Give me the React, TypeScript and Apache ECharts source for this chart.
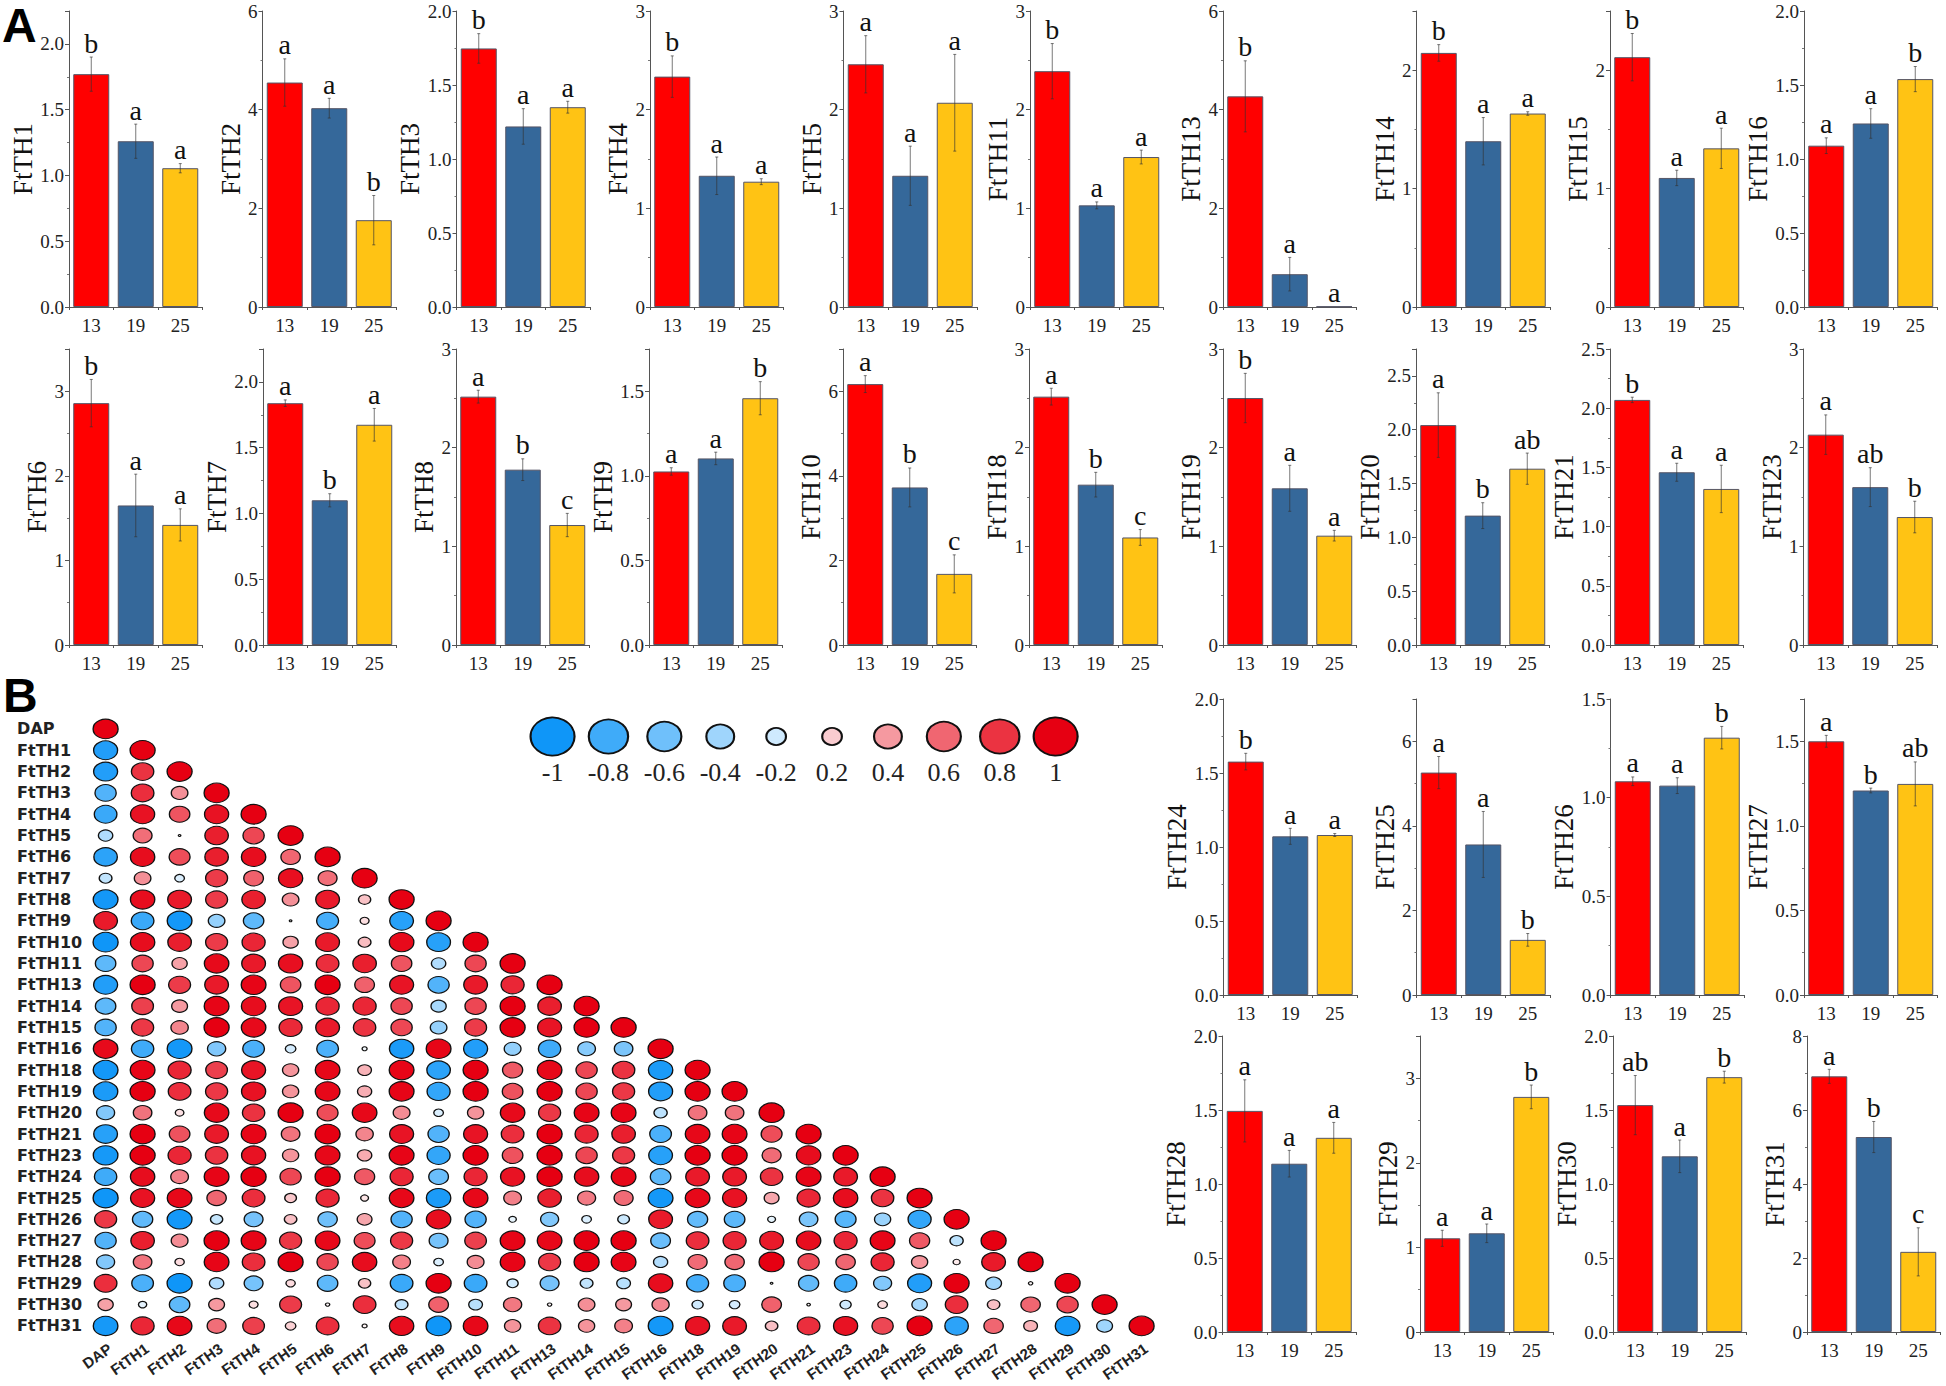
import React, { useEffect, useRef } from "react";
import * as echarts from "echarts";

// ---------- bar panel data ----------
const stages = ["13", "19", "25"];
const panelNames = [
  "FtTH1", "FtTH2", "FtTH3", "FtTH4", "FtTH5", "FtTH11", "FtTH13", "FtTH14", "FtTH15", "FtTH16",
  "FtTH6", "FtTH7", "FtTH8", "FtTH9", "FtTH10", "FtTH18", "FtTH19", "FtTH20", "FtTH21", "FtTH23",
  "FtTH24", "FtTH25", "FtTH26", "FtTH27", "FtTH28", "FtTH29", "FtTH30", "FtTH31",
];
const means = [
  [1.77, 1.26, 1.055], [4.55, 4.03, 1.76], [1.747, 1.22, 1.35], [2.335, 1.33, 1.27], [2.46, 1.33, 2.07],
  [2.39, 1.03, 1.52], [4.27, 0.665, 0.01], [2.146, 1.4, 1.634], [2.11, 1.09, 1.34], [1.09, 1.24, 1.54],
  [2.86, 1.65, 1.42], [1.838, 1.1, 1.674], [2.517, 1.777, 1.216], [1.026, 1.103, 1.459], [6.17, 3.726, 1.682],
  [2.517, 1.625, 1.09], [2.503, 1.588, 1.108], [2.043, 1.202, 1.638], [2.07, 1.459, 1.318], [2.132, 1.6, 1.297],
  [1.577, 1.072, 1.081], [5.26, 3.56, 1.304], [1.083, 1.061, 1.304], [1.5, 1.209, 1.248],
  [1.494, 1.137, 1.312], [1.108, 1.167, 2.78], [1.533, 1.187, 1.722], [6.91, 5.27, 2.166],
];
const errors = [
  [0.13, 0.13, 0.035], [0.48, 0.2, 0.5], [0.1, 0.12, 0.04], [0.21, 0.19, 0.03], [0.29, 0.3, 0.49],
  [0.28, 0.035, 0.07], [0.72, 0.34, 0], [0.07, 0.2, 0.015], [0.2, 0.065, 0.17], [0.053, 0.1, 0.085],
  [0.28, 0.37, 0.19], [0.025, 0.05, 0.124], [0.065, 0.11, 0.118], [0.022, 0.037, 0.098], [0.2, 0.46, 0.45],
  [0.085, 0.125, 0.08], [0.25, 0.233, 0.054], [0.3, 0.12, 0.145], [0.023, 0.076, 0.2], [0.2, 0.197, 0.16],
  [0.056, 0.054, 0.01], [0.38, 0.78, 0.15], [0.022, 0.04, 0.057], [0.035, 0.014, 0.13],
  [0.21, 0.09, 0.104], [0.095, 0.11, 0.14], [0.2, 0.11, 0.04], [0.19, 0.42, 0.65],
];
const letters = [
  ["b", "a", "a"], ["a", "a", "b"], ["b", "a", "a"], ["b", "a", "a"], ["a", "a", "a"],
  ["b", "a", "a"], ["b", "a", "a"], ["b", "a", "a"], ["b", "a", "a"], ["a", "a", "b"],
  ["b", "a", "a"], ["a", "b", "a"], ["a", "b", "c"], ["a", "a", "b"], ["a", "b", "c"],
  ["a", "b", "c"], ["b", "a", "a"], ["a", "b", "ab"], ["b", "a", "a"], ["a", "ab", "b"],
  ["b", "a", "a"], ["a", "a", "b"], ["a", "a", "b"], ["a", "b", "ab"],
  ["a", "a", "a"], ["a", "a", "b"], ["ab", "a", "b"], ["a", "b", "c"],
];
const yMax = [
  2.25, 6, 2, 3, 3, 3, 6, 2.5, 2.5, 2,
  3.5, 2.25, 3, 1.75, 7, 3, 3, 2.75, 2.5, 3,
  2, 7, 1.5, 1.75, 2, 3.5, 2, 8,
];
const yStep = [
  0.5, 2, 0.5, 1, 1, 1, 2, 1, 1, 0.5,
  1, 0.5, 1, 0.5, 2, 1, 1, 0.5, 0.5, 1,
  0.5, 2, 0.5, 0.5, 0.5, 1, 0.5, 2,
];

// ---------- correlation data ----------
const corrNames = [
  "DAP", "FtTH1", "FtTH2", "FtTH3", "FtTH4", "FtTH5", "FtTH6", "FtTH7", "FtTH8", "FtTH9", "FtTH10",
  "FtTH11", "FtTH13", "FtTH14", "FtTH15", "FtTH16", "FtTH18", "FtTH19", "FtTH20", "FtTH21", "FtTH23",
  "FtTH24", "FtTH25", "FtTH26", "FtTH27", "FtTH28", "FtTH29", "FtTH30", "FtTH31",
];
const corrRows = [
  [1],
  [-0.92, 1],
  [-0.92, 0.8, 1],
  [-0.72, 0.82, 0.44, 1],
  [-0.82, 0.93, 0.67, 0.93, 1],
  [-0.33, 0.57, 0.01, 0.88, 0.72, 1],
  [-0.88, 0.95, 0.7, 0.88, 0.95, 0.6, 1],
  [-0.26, 0.44, -0.15, 0.77, 0.62, 0.94, 0.57, 1],
  [-0.98, 0.95, 0.9, 0.77, 0.88, 0.44, 0.9, 0.24, 1],
  [0.9, -0.82, -0.98, -0.44, -0.67, 0.01, -0.77, 0.13, -0.9, 1],
  [-1, 0.95, 0.88, 0.77, 0.85, 0.37, 0.9, 0.26, 0.96, -0.9, 1],
  [-0.67, 0.72, 0.37, 0.96, 0.9, 0.94, 0.82, 0.88, 0.67, -0.33, 0.72, 1],
  [-0.92, 1, 0.77, 0.9, 0.98, 0.67, 1, 0.62, 0.92, -0.72, 0.9, 0.85, 1],
  [-0.67, 0.75, 0.4, 0.98, 0.95, 0.92, 0.85, 0.85, 0.72, -0.37, 0.72, 1, 0.88, 1],
  [-0.72, 0.78, 0.48, 1, 0.96, 0.84, 0.9, 0.8, 0.72, -0.44, 0.77, 1, 0.92, 1, 1],
  [0.96, -0.8, -0.98, -0.53, -0.75, -0.18, -0.75, -0.04, -0.95, 0.98, -0.92, -0.45, -0.8, -0.5, -0.55, 1],
  [-0.98, 0.98, 0.85, 0.75, 0.92, 0.42, 0.97, 0.3, 0.98, -0.88, 1, 0.65, 0.97, 0.72, 0.8, -0.95, 1],
  [-0.95, 1, 0.82, 0.78, 0.93, 0.42, 0.97, 0.32, 0.98, -0.85, 1, 0.68, 1, 0.72, 0.78, -0.92, 1, 1],
  [-0.52, 0.55, 0.12, 0.96, 0.8, 1, 0.7, 0.97, 0.45, -0.15, 0.42, 0.96, 0.78, 0.98, 0.98, -0.28, 0.55, 0.55, 1],
  [-0.9, 1, 0.68, 0.9, 0.98, 0.55, 1, 0.48, 0.92, -0.72, 0.92, 0.82, 1, 0.85, 0.88, -0.75, 0.97, 0.98, 0.7, 1],
  [-0.97, 1, 0.85, 0.8, 0.93, 0.42, 0.97, 0.33, 0.98, -0.85, 1, 0.68, 1, 0.72, 0.78, -0.9, 1, 1, 0.58, 0.95, 1],
  [-0.8, 0.95, 0.5, 0.98, 1, 0.72, 1, 0.65, 0.85, -0.62, 0.85, 0.93, 1, 0.95, 0.97, -0.68, 0.9, 0.9, 0.8, 0.98, 0.9, 1],
  [-1, 0.93, 0.97, 0.6, 0.82, 0.22, 0.85, 0.1, 0.97, -0.95, 0.97, 0.5, 0.88, 0.52, 0.58, -0.98, 0.97, 0.93, 0.35, 0.85, 0.95, 0.8, 1],
  [0.78, -0.66, -0.98, -0.24, -0.57, 0.25, -0.6, 0.35, -0.72, 0.95, -0.72, -0.09, -0.52, -0.15, -0.22, 0.9, -0.65, -0.68, -0.1, -0.55, -0.7, -0.42, -0.85, 1],
  [-0.72, 0.88, 0.45, 1, 0.98, 0.78, 0.97, 0.7, 0.78, -0.57, 0.75, 0.98, 0.97, 1, 1, -0.62, 0.82, 0.85, 0.9, 0.95, 0.85, 0.98, 0.65, -0.28, 1],
  [-0.52, 0.55, 0.14, 0.98, 0.82, 1, 0.72, 0.95, 0.5, -0.15, 0.45, 0.98, 0.78, 1, 0.98, -0.32, 0.58, 0.6, 1, 0.72, 0.6, 0.85, 0.42, 0.08, 0.9, 1],
  [0.82, -0.75, -1, -0.33, -0.57, 0.14, -0.67, 0.24, -0.82, 1, -0.82, -0.2, -0.57, -0.26, -0.3, 0.95, -0.78, -0.75, 0.01, -0.65, -0.8, -0.52, -0.92, 1, -0.4, 0.03, 1],
  [0.37, -0.11, -0.67, 0.4, 0.13, 0.77, 0.03, 0.82, -0.26, 0.62, -0.3, 0.53, 0.03, 0.44, 0.4, 0.47, -0.2, -0.18, 0.62, 0.02, -0.2, 0.15, -0.38, 0.82, 0.25, 0.6, 0.72, 1],
  [-0.97, 0.85, 0.97, 0.57, 0.75, 0.18, 0.82, 0.04, 0.95, -1, 0.97, 0.42, 0.8, 0.42, 0.5, -0.98, 0.93, 0.9, 0.25, 0.82, 0.93, 0.72, 1, -0.88, 0.6, 0.3, -0.97, -0.4, 1],
];
const legendValues = [-1, -0.8, -0.6, -0.4, -0.2, 0.2, 0.4, 0.6, 0.8, 1];

// ---------- layout and styles ----------
const panelLeft = [
  69, 262.5, 456.5, 650, 843.5, 1030, 1223, 1416.5, 1610, 1804,
  69, 263, 456, 649, 843, 1029, 1223, 1416, 1610, 1803.5,
  1223.5, 1416.5, 1610.5, 1804, 1222.5, 1420, 1613, 1807,
];
const rowTop = [11, 349, 699, 1036];
const panelRow = (i: number) => (i < 10 ? 0 : i < 20 ? 1 : i < 24 ? 2 : 3);
const PANEL_W = 133.5;
const PANEL_H = 296;
const BAR_COLORS = ["#FF0000", "#35689A", "#FFC314"];
const SERIF = "Liberation Serif";

function corrColor(r: number) {
  const end = r < 0 ? [15, 150, 248] : [230, 0, 18];
  const t = Math.abs(r);
  const c = end.map((e) => Math.round(255 + (e - 255) * t));
  return `rgb(${c[0]},${c[1]},${c[2]})`;
}

function buildOption() {
  const grid: any[] = [];
  const xAxis: any[] = [];
  const yAxis: any[] = [];
  const series: any[] = [];

  panelNames.forEach((name, i) => {
    grid.push({
      left: panelLeft[i],
      top: rowTop[panelRow(i)],
      width: PANEL_W,
      height: PANEL_H,
      outerBoundsMode: "none",
    });
    const step = yStep[i];
    const decimals = step < 1 ? 1 : 0;
    xAxis.push({
      type: "category",
      gridIndex: i,
      data: stages,
      axisLine: { lineStyle: { color: "#555", width: 1 } },
      axisTick: { show: true, length: 3, lineStyle: { color: "#555" } },
      axisLabel: { fontFamily: SERIF, fontSize: 19, color: "#222", margin: 9 },
    });
    yAxis.push({
      type: "value",
      gridIndex: i,
      min: 0,
      max: yMax[i],
      interval: step,
      name,
      nameLocation: "middle",
      nameRotate: 90,
      nameGap: decimals ? 28 : 14,
      nameTextStyle: { fontFamily: SERIF, fontSize: 27, color: "#111" },
      splitLine: { show: false },
      axisLine: { show: true, lineStyle: { color: "#555", width: 1 } },
      axisTick: { show: true, length: 4, lineStyle: { color: "#555" } },
      minorTick: { show: true, splitNumber: 2, length: 2, lineStyle: { color: "#777" } },
      minorSplitLine: { show: false },
      axisLabel: {
        fontFamily: SERIF,
        fontSize: 19,
        color: "#222",
        margin: 5,
        formatter: (v: number) => {
          const k = v / step;
          return Math.abs(k - Math.round(k)) < 1e-6 ? v.toFixed(decimals) : "";
        },
      },
    });
    series.push({
      type: "bar",
      xAxisIndex: i,
      yAxisIndex: i,
      barWidth: 36,
      data: means[i].map((v, k) => ({
        value: v,
        itemStyle: { color: BAR_COLORS[k], borderColor: "#556", borderWidth: 1 },
      })),
    });
    series.push({
      type: "custom",
      xAxisIndex: i,
      yAxisIndex: i,
      clip: false,
      z: 5,
      data: means[i].map((v, k) => [k, v, errors[i][k]]),
      renderItem: (params: any, api: any) => {
        const k = params.dataIndex;
        const m = api.value(1);
        const e = api.value(2);
        const top = api.coord([k, m + e]);
        const bottom = api.coord([k, Math.max(0, m - e)]);
        const stroke = { stroke: "rgba(50,50,50,0.65)", lineWidth: 1 };
        const children: any[] = [];
        if (e > 0) {
          children.push(
            { type: "line", shape: { x1: top[0], y1: top[1], x2: bottom[0], y2: bottom[1] }, style: stroke },
            { type: "line", shape: { x1: top[0] - 1.5, y1: top[1], x2: top[0] + 1.5, y2: top[1] }, style: stroke },
            { type: "line", shape: { x1: bottom[0] - 1.5, y1: bottom[1], x2: bottom[0] + 1.5, y2: bottom[1] }, style: stroke }
          );
        }
        children.push({
          type: "text",
          style: {
            text: letters[i][k],
            x: top[0],
            y: top[1],
            fill: "#111",
            font: `28px "${SERIF}"`,
            textAlign: "center",
            textVerticalAlign: "bottom",
          },
        });
        return { type: "group", children };
      },
    });
  });

  // correlation matrix
  const ci = panelNames.length;
  grid.push({ left: 87.1, top: 718.3, width: 1073, height: 618.3, outerBoundsMode: "none" });
  xAxis.push({
    type: "category",
    gridIndex: ci,
    data: corrNames,
    axisLine: { show: false },
    axisTick: { show: false },
    axisLabel: {
      interval: 0,
      rotate: 35,
      margin: 4,
      verticalAlign: "top",
      fontFamily: "Liberation Sans",
      fontWeight: "bold",
      fontSize: 15,
      color: "#222",
    },
  });
  yAxis.push({
    type: "category",
    gridIndex: ci,
    inverse: true,
    data: corrNames,
    axisLine: { show: false },
    axisTick: { show: false },
    axisLabel: {
      interval: 0,
      align: "left",
      margin: 70,
      fontFamily: "DejaVu Sans",
      fontWeight: "bold",
      fontSize: 16,
      color: "#222",
    },
  });
  const corrData: any[] = [];
  corrRows.forEach((row, r) => row.forEach((v, c) => corrData.push([c, r, v])));
  series.push({
    type: "scatter",
    xAxisIndex: ci,
    yAxisIndex: ci,
    data: corrData,
    symbol: "circle",
    symbolSize: (d: number[]) => {
      const s = Math.sqrt(Math.abs(d[2]));
      return [25 * s, 19.5 * s];
    },
    itemStyle: {
      color: (p: any) => corrColor(p.data[2]),
      borderColor: "#111",
      borderWidth: 1.2,
      opacity: 1,
    },
  });

  // size / colour key
  const li = ci + 1;
  grid.push({ left: 524.6, top: 714, width: 559, height: 45, outerBoundsMode: "none" });
  xAxis.push({
    type: "category",
    gridIndex: li,
    data: legendValues.map(String),
    axisLine: { show: false },
    axisTick: { show: false },
    axisLabel: { interval: 0, fontFamily: SERIF, fontSize: 26, color: "#222", margin: 0 },
  });
  yAxis.push({ type: "value", gridIndex: li, min: 0, max: 1, show: false });
  series.push({
    type: "scatter",
    xAxisIndex: li,
    yAxisIndex: li,
    data: legendValues.map((v, i) => [i, 0.5, v]),
    symbol: "circle",
    symbolSize: (d: number[]) => {
      const s = Math.sqrt(Math.abs(d[2]));
      return [44 * s, 38 * s];
    },
    itemStyle: {
      color: (p: any) => corrColor(p.data[2]),
      borderColor: "#111",
      borderWidth: 2,
      opacity: 1,
    },
  });

  return {
    animation: false,
    backgroundColor: "#ffffff",
    grid,
    xAxis,
    yAxis,
    series,
    graphic: [
      { type: "text", left: 2, top: 1, style: { text: "A", font: 'bold 48px "Liberation Sans"', fill: "#000" } },
      { type: "text", left: 3, top: 671, style: { text: "B", font: 'bold 48px "Liberation Sans"', fill: "#000" } },
    ],
  };
}

export default function App() {
  const ref = useRef<HTMLDivElement>(null);
  useEffect(() => {
    document.body.style.margin = "0";
    const chart = echarts.init(ref.current!, undefined, { renderer: "svg" });
    chart.setOption(buildOption() as any);
    return () => chart.dispose();
  }, []);
  return <div ref={ref} style={{ position: "absolute", left: 0, top: 0, width: 1946, height: 1386 }} />;
}
